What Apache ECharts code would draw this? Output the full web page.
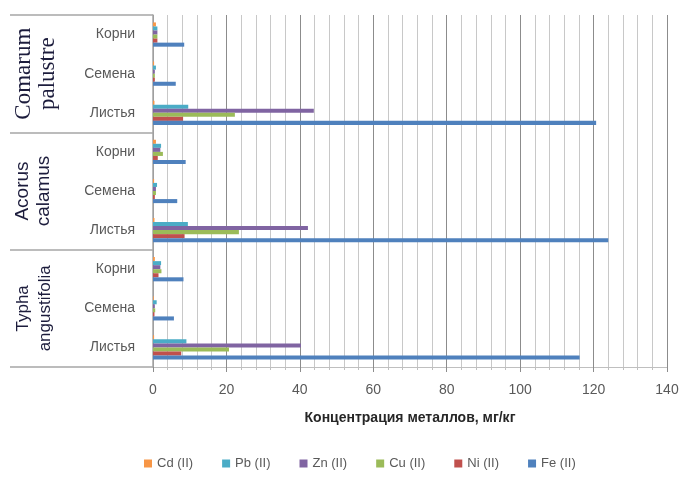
<!DOCTYPE html>
<html>
<head>
<meta charset="utf-8">
<script src="https://cdn.jsdelivr.net/npm/echarts@6/dist/echarts.min.js"></script>
<style>
html,body{margin:0;padding:0;background:#fff;}
#c{width:682px;height:479px;}
</style>
</head>
<body>
<div id="c"></div>
<script>
// Groups (bottom to top) and organs within each group (bottom to top)
const groups = ['Typha|angustifolia', 'Acorus|calamus', 'Comarum|palustre'];
const organs = ['Листья', 'Семена', 'Корни'];
const xTicks = [0, 20, 40, 60, 80, 100, 120, 140];
const axisTitle = 'Концентрация металлов, мг/кг';
const legendOrder = ['Cd (II)', 'Pb (II)', 'Zn (II)', 'Cu (II)', 'Ni (II)', 'Fe (II)'];

// values per category, bottom to top:
// Typha: Листья, Семена, Корни; Acorus: ...; Comarum: ...
const fe = [116.2, 5.7, 8.3, 124.0, 6.6, 8.9, 120.7, 6.2, 8.5];
const ni = [7.7, 0.4, 1.5, 8.6, 0.5, 1.3, 8.2, 0.5, 1.2];
const cu = [20.7, 0.6, 2.3, 23.4, 0.8, 2.7, 22.3, 0.5, 1.2];
const zn = [40.3, 0.5, 2.0, 42.2, 0.8, 2.0, 43.8, 0.5, 1.2];
const pb = [9.1, 1.0, 2.2, 9.5, 1.1, 2.2, 9.6, 0.8, 1.2];
const cd = [0.3, 0.2, 0.5, 0.4, 0.3, 0.8, 0.4, 0.3, 0.8];

const categories = [];
groups.forEach(g => organs.forEach(o => categories.push(g + '#' + o)));

// listed top-to-bottom within a category band (ECharts puts the first series on top)
const seriesDefs = [
  { name: 'Cd (II)', data: cd, color: '#F79646' },
  { name: 'Pb (II)', data: pb, color: '#4BACC6' },
  { name: 'Zn (II)', data: zn, color: '#8064A2' },
  { name: 'Cu (II)', data: cu, color: '#9BBB59' },
  { name: 'Ni (II)', data: ni, color: '#C0504D' },
  { name: 'Fe (II)', data: fe, color: '#4F81BD' }
];

const chart = echarts.init(document.getElementById('c'), null, { renderer: 'canvas' });

const option = {
  backgroundColor: '#ffffff',
  animation: false,
  grid: { left: 153, right: 15, top: 15, bottom: 112, containLabel: false },
  legend: {
    data: legendOrder,
    bottom: 4,
    left: 139,
    itemWidth: 8,
    itemHeight: 8,
    itemGap: 29,
    icon: 'rect',
    textStyle: { color: '#595959', fontSize: 13, fontFamily: 'sans-serif' }
  },
  xAxis: {
    type: 'value',
    min: xTicks[0],
    max: xTicks[xTicks.length - 1],
    interval: 20,
    name: axisTitle,
    nameLocation: 'middle',
    nameGap: 44,
    nameTextStyle: { color: '#262626', fontSize: 14, fontWeight: 'bold', fontFamily: 'sans-serif' },
    axisLine: { show: true, lineStyle: { color: '#bfbfbf', width: 1 } },
    axisTick: { show: true, length: 5, lineStyle: { color: '#8c8c8c' } },
    minorTick: { show: true, splitNumber: 5, length: 3, lineStyle: { color: '#bfbfbf' } },
    axisLabel: { color: '#595959', fontSize: 14, margin: 16, fontFamily: 'sans-serif' },
    splitLine: { show: true, lineStyle: { color: '#8c8c8c', width: 1 } },
    minorSplitLine: { show: true, lineStyle: { color: '#c8c8c8', width: 1 } }
  },
  yAxis: [
    {
      type: 'category',
      data: categories,
      axisLine: { show: true, lineStyle: { color: '#a6a6a6', width: 1.5 } },
      axisTick: { show: false },
      axisLabel: {
        color: '#595959', fontSize: 14, margin: 18, interval: 0, fontFamily: 'sans-serif',
        formatter: v => v.split('#')[1]
      },
      splitLine: { show: false }
    },
    {
      type: 'category',
      data: groups,
      position: 'left',
      offset: 143,
      axisLine: { show: false },
      axisTick: { show: true, inside: true, interval: 0, length: 143, lineStyle: { color: '#a6a6a6', width: 1.5 } },
      axisLabel: {
        show: true,
        inside: true,
        interval: 0,
        hideOverlap: false,
        rotate: 90,
        margin: 2,
        color: '#1c1c3c',
        fontFamily: 'sans-serif',
        formatter: (v, i) => {
          const style = i === 2 ? 'serif' : (i === 1 ? 'sansA' : 'sansT');
          return v.split('|').map(t => '{' + style + '|' + t + '}').join('\n');
        },
        rich: {
          serif: { fontFamily: 'serif', fontSize: 23, lineHeight: 24, color: '#1c1c3c' },
          sansA: { fontFamily: 'sans-serif', fontSize: 19, lineHeight: 21, color: '#1c1c3c' },
          sansT: { fontFamily: 'sans-serif', fontSize: 17, lineHeight: 22, color: '#1c1c3c' }
        }
      },
      splitLine: { show: false }
    }
  ],
  series: seriesDefs.map(s => ({
    name: s.name,
    type: 'bar',
    yAxisIndex: 0,
    data: s.data,
    barGap: '0%',
    barCategoryGap: '38%',
    itemStyle: { color: s.color }
  }))
};

chart.setOption(option);
</script>
</body>
</html>
